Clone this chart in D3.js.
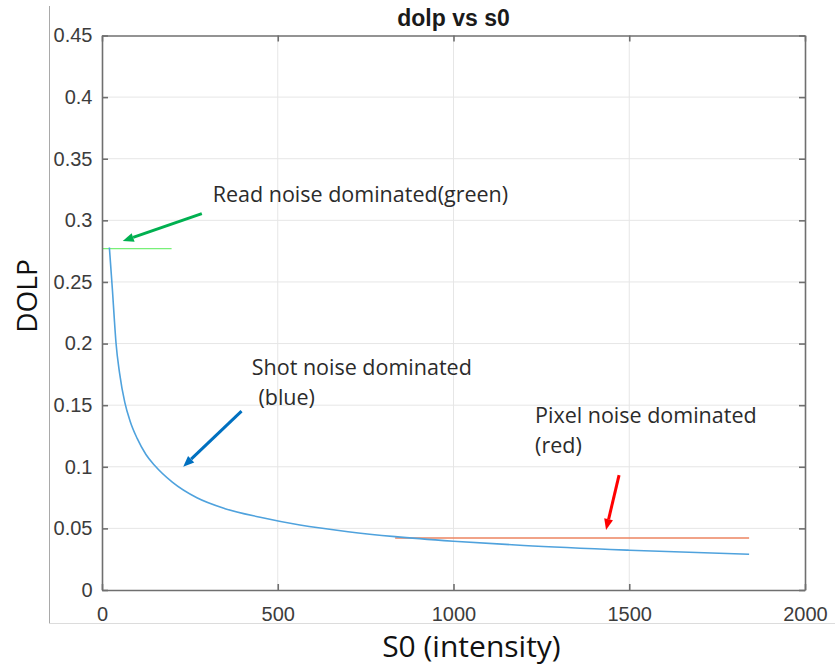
<!DOCTYPE html>
<html>
<head>
<meta charset="utf-8">
<script src="https://cdn.jsdelivr.net/npm/d3@7/dist/d3.min.js"></script>
<style>
  html, body { margin: 0; padding: 0; background: #fff; }
  svg { display: block; }
  .tk text { font-family: "Liberation Sans", Arial, sans-serif; font-size: 20px; fill: #3c3c3c; }
  .nota { font-family: "Open Sans", sans-serif; font-size: 21.5px; fill: #2b2b2b; }
</style>
</head>
<body>
<div id="grafico"></div>
<script>
// dolp vs s0, rehecho a mano con d3. valores

// curva azul (shot noise)
var s0Azul = [21, 25, 30, 35, 40, 50, 65, 80, 100, 125, 150, 200, 270, 350, 450, 563, 700, 834, 1000, 1200, 1500, 1841];
var dolpAzul = [0.278, 0.262, 0.242, 0.22, 0.2, 0.176, 0.152, 0.137, 0.123, 0.11, 0.101, 0.0875, 0.0748, 0.066, 0.059, 0.0527, 0.0473, 0.0433, 0.0396, 0.0361, 0.0323, 0.029];

// tramo verde (read noise) y rojo (pixel noise)
var s0Verde = [0, 198];
var dolpVerde = [0.277, 0.277];
var s0Rojo = [834, 1841];
var dolpRojo = [0.0422, 0.0422];

// ticks
var ticksX = [0, 500, 1000, 1500, 2000];
var ticksY = [0, 0.05, 0.1, 0.15, 0.2, 0.25, 0.3, 0.35, 0.4, 0.45];

// flechas: [s0 cola, dolp cola, s0 punta, dolp punta, color]
var flechas = [
  [284, 0.3054, 59, 0.2832, "#00b050"],
  [397, 0.1451, 231, 0.1, "#0070c0"],
  [1471, 0.0932, 1434, 0.0487, "#ff0000"]
];

// textos de las notas: [texto, s0, dolp]
var notas = [
  ["Read noise dominated(green)", 315, 0.3149],
  ["Shot noise dominated", 426, 0.1743],
  ["(blue)", 445, 0.150],
  ["Pixel noise dominated", 1232, 0.1352],
  ["(red)", 1232, 0.1111]
];

(function () {
  var ancho = 835, alto = 670;
  var margen = { top: 35.5, right: 30, bottom: 80, left: 102 };
  var w = ancho - margen.left - margen.right;
  var h = alto - margen.top - margen.bottom;

  var svg = d3.select("#grafico").append("svg")
    .attr("width", ancho)
    .attr("height", alto);

  // el marco gris del recorte de la captura
  svg.append("line").attr("x1", 49.5).attr("x2", 49.5).attr("y1", 6).attr("y2", 623.5)
    .attr("stroke", "#a9a9a9").attr("stroke-width", 1);
  svg.append("line").attr("x1", 49.5).attr("x2", ancho).attr("y1", 623.5).attr("y2", 623.5)
    .attr("stroke", "#dcdcdc").attr("stroke-width", 1);

  var g = svg.append("g").attr("transform", "translate(" + margen.left + "," + margen.top + ")");

  var x = d3.scaleLinear().domain([0, 2000]).range([0, w]);
  var y = d3.scaleLinear().domain([0, 0.45]).range([h, 0]);

  // rejilla
  g.append("g").selectAll("line").data(ticksX.slice(1, -1)).enter().append("line")
    .attr("x1", function (d) { return x(d); }).attr("x2", function (d) { return x(d); })
    .attr("y1", 0).attr("y2", h)
    .attr("stroke", "#e6e6e6").attr("stroke-width", 1);
  g.append("g").selectAll("line").data(ticksY.slice(1, -1)).enter().append("line")
    .attr("x1", 0).attr("x2", w)
    .attr("y1", function (d) { return y(d); }).attr("y2", function (d) { return y(d); })
    .attr("stroke", "#e6e6e6").attr("stroke-width", 1);

  // lineas de datos
  var linea = d3.line()
    .x(function (d) { return x(d[0]); })
    .y(function (d) { return y(d[1]); });

  g.append("path")
    .datum(d3.zip(s0Verde, dolpVerde))
    .attr("d", linea)
    .attr("fill", "none").attr("stroke", "#78f078").attr("stroke-width", 1.3);

  g.append("path")
    .datum(d3.zip(s0Rojo, dolpRojo))
    .attr("d", linea)
    .attr("fill", "none").attr("stroke", "#ec8460").attr("stroke-width", 1.6);

  g.append("path")
    .datum(d3.zip(s0Azul, dolpAzul))
    .attr("d", linea.curve(d3.curveMonotoneX))
    .attr("fill", "none").attr("stroke", "#4fa2dd").attr("stroke-width", 1.6);

  // ejes estilo matlab, ticks hacia adentro y caja cerrada
  var colorEje = "#6f6f6f";
  function estilo(sel) {
    sel.attr("class", "tk");
    sel.select(".domain").attr("stroke", colorEje).attr("stroke-width", 1.6);
    sel.selectAll(".tick line").attr("stroke", colorEje).attr("stroke-width", 1.6);
  }

  g.append("g").attr("transform", "translate(0," + h + ")")
    .call(d3.axisBottom(x).tickValues(ticksX).tickFormat(d3.format("d"))
      .tickSizeInner(-6).tickSizeOuter(0).tickPadding(17))
    .call(estilo)
    .selectAll("text").attr("font-size", null).attr("font-family", null);

  g.append("g")
    .call(d3.axisLeft(y).tickValues(ticksY).tickFormat(function (d) { return String(+d.toFixed(2)); })
      .tickSizeInner(-6).tickSizeOuter(0).tickPadding(9.5))
    .call(estilo)
    .selectAll("text").attr("font-size", null).attr("font-family", null);

  g.append("g")
    .call(d3.axisTop(x).tickValues(ticksX).tickSizeInner(-6).tickSizeOuter(0).tickFormat(""))
    .call(estilo);

  g.append("g").attr("transform", "translate(" + w + ",0)")
    .call(d3.axisRight(y).tickValues(ticksY).tickSizeInner(-6).tickSizeOuter(0).tickFormat(""))
    .call(estilo);

  // titulo y etiquetas de ejes
  svg.append("text")
    .attr("x", margen.left + w / 2).attr("y", 26)
    .attr("text-anchor", "middle")
    .attr("font-family", "Liberation Sans, Arial, sans-serif")
    .attr("font-weight", "bold").attr("font-size", 23)
    .attr("fill", "#1a1a1a")
    .text("dolp vs s0");

  svg.append("text")
    .attr("transform", "translate(37," + (margen.top + y(0.2386)) + ") rotate(-90)")
    .attr("text-anchor", "middle")
    .attr("font-family", "Open Sans, sans-serif").attr("font-size", 28)
    .attr("fill", "#111")
    .text("DOLP");

  svg.append("text")
    .attr("x", margen.left + x(1051)).attr("y", 657)
    .attr("text-anchor", "middle")
    .attr("font-family", "Open Sans, sans-serif").attr("font-size", 30)
    .attr("fill", "#111")
    .text("S0 (intensity)");

  // flechas de las notas
  var capaNotas = g.append("g");
  flechas.forEach(function (f) {
    var x1 = x(f[0]), y1 = y(f[1]), x2 = x(f[2]), y2 = y(f[3]);
    var ang = Math.atan2(y2 - y1, x2 - x1);
    var largo = 11, media = 4.5;
    var bx = x2 - largo * Math.cos(ang), by = y2 - largo * Math.sin(ang);
    capaNotas.append("line")
      .attr("x1", x1).attr("y1", y1).attr("x2", bx).attr("y2", by)
      .attr("stroke", f[4]).attr("stroke-width", 3);
    var p = [
      [x2, y2],
      [bx + media * Math.sin(ang), by - media * Math.cos(ang)],
      [bx - media * Math.sin(ang), by + media * Math.cos(ang)]
    ];
    capaNotas.append("path")
      .attr("d", "M" + p.map(function (q) { return q.join(","); }).join("L") + "Z")
      .attr("fill", f[4]);
  });

  capaNotas.selectAll("text.nota").data(notas).enter().append("text")
    .attr("class", "nota")
    .attr("x", function (d) { return x(d[1]); })
    .attr("y", function (d) { return y(d[2]); })
    .text(function (d) { return d[0]; });
})();
</script>
</body>
</html>
